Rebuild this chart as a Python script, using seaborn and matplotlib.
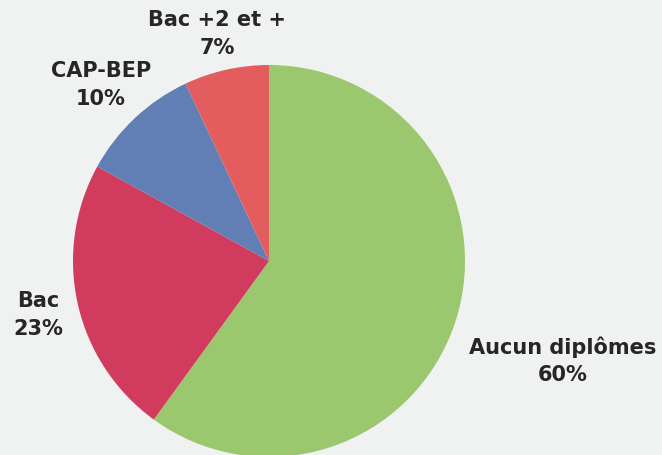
import matplotlib
matplotlib.use('Agg')
import matplotlib.pyplot as plt
import seaborn as sns

# données
categories = ['Aucun diplômes', 'Bac', 'CAP-BEP', 'Bac +2 et +']
valeurs = [60, 23, 10, 7]
couleurs = ['#9bc76e', '#d13c5e', '#617fb5', '#e35d5e']

sns.set_theme(style='white')
plt.rcParams['font.family'] = ['DejaVu Sans']

fig = plt.figure(figsize=(6.62, 4.56), dpi=100)
fig.patch.set_facecolor('#f0f1f1')
ax = fig.add_axes([0, 0, 1, 1])
ax.set_facecolor('#f0f1f1')

wedges, _ = ax.pie(valeurs, colors=couleurs, startangle=90, counterclock=False,
                   center=(269, 194), radius=196, frame=True,
                   wedgeprops=dict(linewidth=0))

# position des étiquettes (pixels)
pos_labels = [(563, 95), (38, 141), (101, 371), (217, 422)]
for cat, v, (x, y) in zip(categories, valeurs, pos_labels):
    ax.text(x, y, f'{cat}\n{v}%', ha='center', va='center', fontsize=15,
            fontweight='heavy', color='#262626', linespacing=1.45, zorder=3)

ax.set_xlim(0, 662)
ax.set_ylim(0, 456)
ax.set_aspect('equal')
ax.axis('off')

fig.savefig('out.png', dpi=100, facecolor=fig.get_facecolor())
